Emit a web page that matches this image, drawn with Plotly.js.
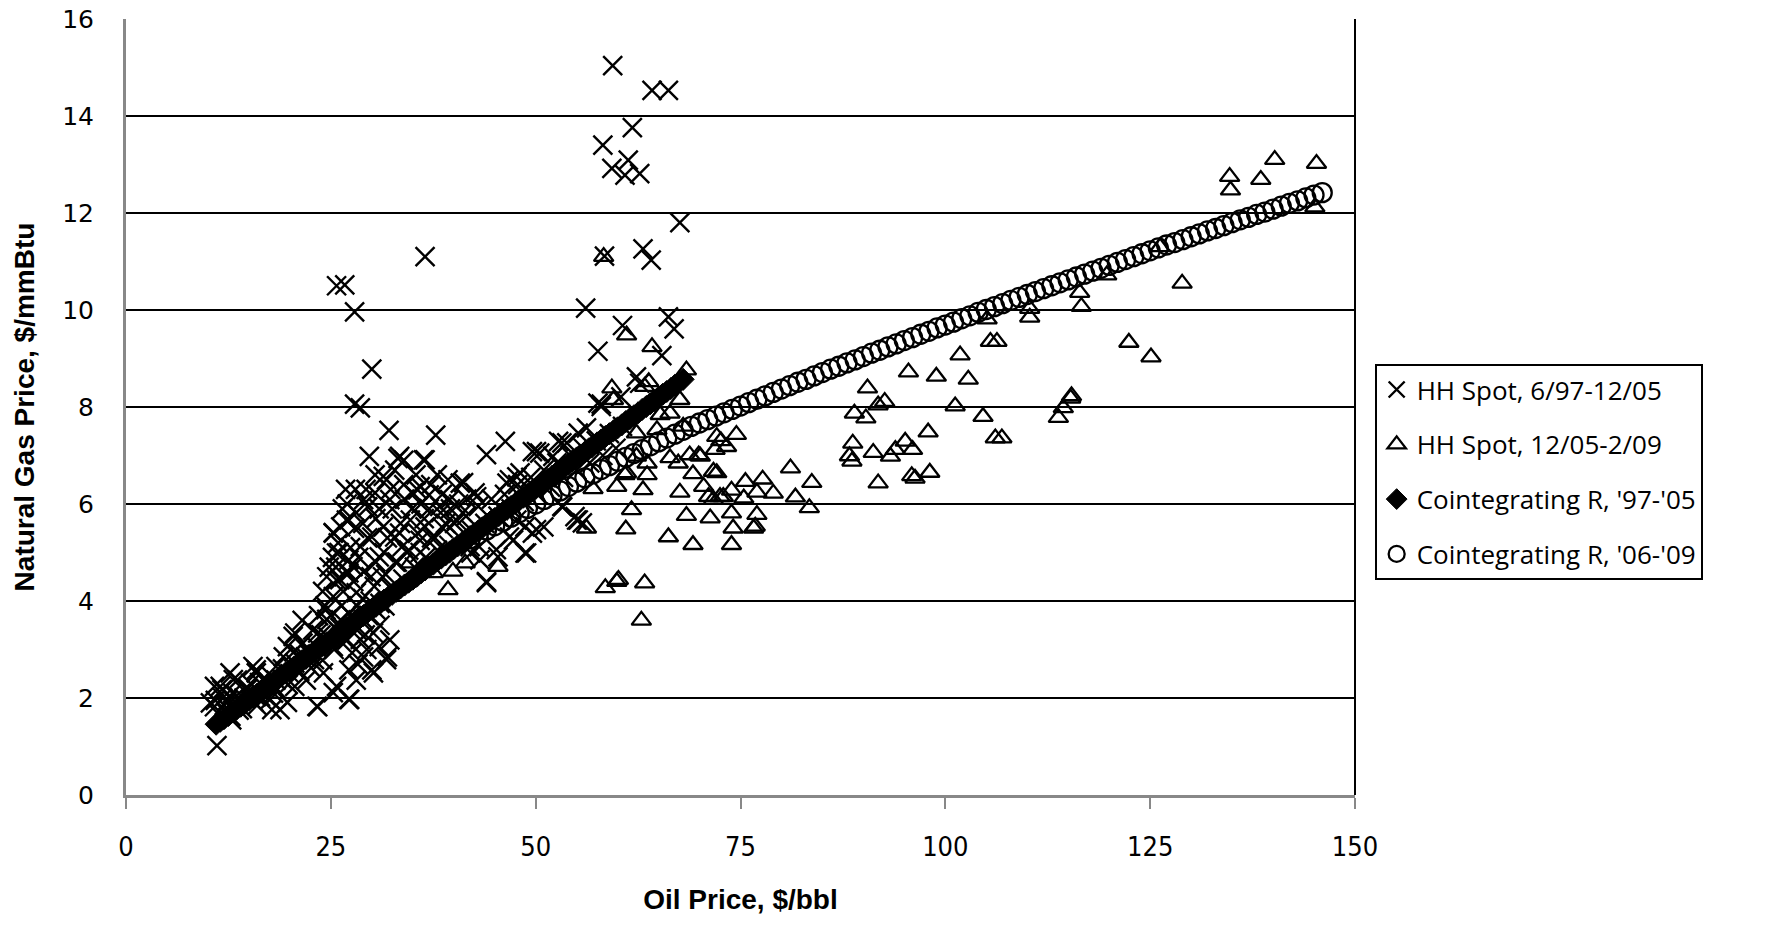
<!DOCTYPE html>
<html>
<head>
<meta charset="utf-8">
<script src="https://cdn.plot.ly/plotly-3.0.1.min.js"></script>
<style>
  html, body { margin: 0; padding: 0; background: #fff; }
  #chart { width: 1771px; height: 925px; }
</style>
</head>
<body>
<div id="chart"></div>
<script>
// ---------------- DATA ----------------
const seriesNames = ["HH Spot, 6/97-12/05", "HH Spot, 12/05-2/09", "Cointegrating R, '97-'05", "Cointegrating R, '06-'09"];
const xTickVals = [0, 25, 50, 75, 100, 125, 150];
const yTickVals = [0, 2, 4, 6, 8, 10, 12, 14, 16];
const xAxisTitle = "Oil Price, $/bbl";
const yAxisTitle = "Natural Gas Price, $/mmBtu";

// HH Spot, 6/97-12/05 (oil $/bbl, gas $/mmBtu)
const hh9705_oil = [
  59.4, 64.2, 66.2, 61.8, 58.2, 61.3, 59.3, 60.9, 62.7, 67.6, 58.4, 63.1, 64.1, 56.1, 60.6, 66.2, 66.9, 57.6, 65.4, 62.3, 58.0,
  25.7, 26.7, 27.9, 36.5, 30.0, 27.9, 28.6, 32.1, 37.8, 29.7, 33.2, 33.9, 36.5, 44.0, 46.3, 31.4, 32.8, 35.6, 37.0, 39.3, 41.2, 42.6, 29.0, 30.4, 49.6, 52.8, 55.2, 58.0, 62.7, 46.8, 47.7,
  25.3, 26.2, 27.2, 28.1, 29.5, 31.4, 32.8, 34.7, 36.5, 38.4, 40.3, 25.7, 27.2, 28.6, 30.0, 30.9, 33.7, 35.6, 25.3, 25.7, 27.2, 28.1, 27.2, 29.0, 26.2, 24.4,
  20.6, 21.6, 19.7, 19.2, 18.3, 20.6, 23.0, 23.4, 25.3, 27.6, 29.0, 30.9, 31.9, 30.0, 27.2, 28.1, 27.2, 23.4, 25.3, 22.0, 17.8, 19.7, 15.9, 15.9, 14.0, 13.6, 11.7, 10.8, 12.2, 11.1, 10.8, 12.7, 15.5, 18.3, 20.6,
  42.1, 43.1, 45.4, 48.7, 49.6, 48.7, 46.8, 44.0, 53.3, 55.2, 51.0, 47.7, 50.5, 53.8, 60.4, 54.8, 55.7,
  57.6, 56.2, 53.2, 50.1, 48.1, 52.1, 53.2, 55.0, 50.1, 48.9, 47.3, 45.2, 44.0, 43.2, 42.0, 40.8, 39.5, 35.9, 33.4, 36.3, 42.8, 46.5, 32.2, 31.8, 35.0, 38.3, 41.1,
  20.4, 15.9, 11.5, 13.1, 23.3, 27.3, 31.8, 30.2, 29.4, 25.7, 24.1, 18.8, 17.6, 25.3, 26.9, 26.1, 24.5, 27.7, 28.6, 30.2, 22.1, 10.3, 14.7, 16.4,
  12.0, 12.8, 13.5, 14.2, 14.9, 15.6, 16.3, 17.0, 17.7, 18.4, 19.1, 19.8, 20.5, 21.2, 21.9, 22.6, 23.3, 24.0, 24.7, 25.4, 26.1, 26.8, 27.5, 28.2, 28.9, 29.6,
  30.3, 31.0, 31.7, 32.4, 33.1, 33.8, 34.5, 35.2, 35.9, 36.6, 37.3, 38.0, 38.7, 39.4, 40.1, 40.8, 41.5, 42.2, 43.0, 43.8, 44.6, 45.4, 46.2, 47.0, 47.8, 48.6,
  49.4, 50.2, 51.0, 51.8, 52.6, 53.4, 54.2, 55.0, 55.8, 56.6, 57.4, 58.2, 59.0, 59.8, 60.6,
  24.8, 26.0, 27.0, 28.0, 29.5, 30.5, 31.5, 32.5, 33.5, 34.0, 36.0, 37.0, 38.0, 39.0, 26.5, 27.8, 29.0, 30.5, 29.8, 24.0, 23.5, 22.8, 21.5, 25.8, 27.0, 28.3, 31.0, 32.2,
  24.5, 25.2, 25.9, 26.4, 26.8, 27.4, 27.9, 28.4, 28.9, 29.3, 29.9, 30.4, 30.9, 31.3, 31.9, 32.3, 32.9, 33.4, 33.9, 34.3, 34.9, 35.4, 35.9, 36.4, 37.2, 37.7, 38.6, 39.6,
  40.6, 41.6, 23.8, 24.3, 25.0, 25.6, 26.3, 26.9, 28.2, 29.2, 30.6, 31.6, 22.4, 21.2, 20.0, 19.0, 18.0, 17.2, 16.0, 15.2, 14.4, 13.8, 13.0, 12.4, 11.4, 11.8, 12.9, 10.9
];
const hh9705_gas = [
  15.04, 14.53, 14.53, 13.76, 13.40, 13.09, 12.92, 12.78, 12.81, 11.80, 11.11, 11.26, 11.03, 10.04, 9.68, 9.86, 9.61, 9.15, 9.06, 8.62, 8.06,
  10.50, 10.52, 9.96, 11.10, 8.78, 8.06, 7.98, 7.52, 7.42, 6.98, 6.94, 6.90, 6.91, 7.02, 7.29, 6.57, 6.70, 6.29, 6.19, 6.50, 6.44, 6.23, 6.09, 6.23, 7.08, 7.29, 7.46, 8.01, 8.49, 6.50, 6.56,
  5.41, 5.53, 5.67, 5.82, 5.94, 5.53, 5.32, 5.67, 5.53, 5.82, 5.67, 4.99, 4.85, 5.12, 5.32, 4.91, 5.12, 5.40, 4.09, 4.43, 4.58, 4.17, 3.75, 3.61, 3.61, 3.82,
  3.34, 3.13, 3.06, 2.85, 2.65, 2.72, 2.79, 3.34, 3.06, 2.93, 2.85, 3.06, 2.85, 2.58, 2.58, 2.37, 1.97, 1.82, 2.11, 2.37, 1.76, 1.91, 2.03, 2.52, 1.97, 2.37, 2.17, 1.82, 1.70, 1.02, 2.24, 2.52, 2.65, 2.37, 2.24,
  4.99, 5.12, 4.91, 4.99, 5.40, 5.53, 5.32, 4.38, 5.94, 5.67, 5.53, 5.67, 7.05, 7.26, 8.21, 5.74, 5.61,
  8.08, 7.57, 7.26, 7.08, 6.64, 6.98, 5.95, 5.67, 5.47, 4.99, 5.26, 5.06, 4.40, 4.85, 5.12, 6.43, 6.09, 6.36, 6.98, 6.91, 6.15, 6.43, 6.09, 6.50, 6.23, 5.95, 5.82,
  3.27, 2.58, 2.24, 2.38, 1.83, 1.97, 2.79, 2.52, 3.00, 2.24, 2.52, 1.76, 1.97, 5.40, 5.67, 4.44, 3.62, 4.71, 3.21, 3.34, 3.00, 1.90, 2.17, 2.03,
  1.85, 1.62, 2.05, 1.78, 2.20, 1.92, 2.32, 2.05, 2.45, 2.18, 2.60, 2.28, 2.95, 2.55, 2.85, 2.62, 3.05, 2.78, 3.25, 3.00, 3.45, 3.20, 3.70, 3.40, 4.05, 3.70,
  4.30, 3.95, 4.55, 4.25, 4.80, 4.45, 5.05, 4.70, 5.25, 4.90, 5.30, 5.05, 5.50, 5.15, 5.60, 5.30, 5.75, 5.45, 5.95, 5.60, 6.10, 5.75, 6.20, 5.90, 6.40, 6.05,
  6.55, 6.20, 6.70, 6.35, 6.85, 6.55, 7.00, 6.70, 7.15, 6.85, 7.30, 7.00, 7.45, 7.15, 7.60,
  4.70, 5.00, 6.00, 6.30, 5.30, 5.70, 5.00, 5.90, 5.60, 6.10, 6.00, 5.90, 6.60, 5.60, 4.20, 4.40, 4.60, 4.80, 4.00, 4.20, 3.70, 3.40, 3.60, 3.40, 3.20, 2.70, 3.50, 3.20,
  4.50, 4.90, 5.20, 5.90, 6.30, 5.10, 5.50, 4.90, 5.60, 6.30, 4.50, 6.60, 5.90, 4.50, 5.30, 6.30, 4.80, 5.40, 6.40, 5.00, 5.90, 6.60, 5.00, 5.70, 6.40, 5.30, 6.20, 5.90,
  6.00, 6.10, 3.30, 3.90, 3.70, 4.70, 3.90, 4.60, 3.90, 3.30, 3.80, 3.90, 2.90, 2.90, 2.50, 2.40, 2.10, 2.30, 1.85, 2.30, 2.00, 1.75, 2.10, 1.95, 1.65, 2.00, 1.55, 1.95
];

// HH Spot, 12/05-2/09
const hh0509_oil = [
  134.7, 134.8, 140.2, 138.5, 145.3, 145.1, 128.9, 126.2, 119.7, 116.4, 116.6, 110.3, 110.3, 105.1, 105.5, 106.3, 101.8, 95.5, 98.9, 102.8,
  122.4, 125.1, 101.2, 104.6, 115.4, 115.3, 114.4, 113.8, 97.9, 95.1, 96.0, 106.1, 106.9, 98.1, 95.9, 96.3, 90.5, 91.8, 92.6, 88.9,
  90.3, 93.9, 88.7, 91.2, 93.3, 88.3, 88.6, 91.8, 61.1, 64.2, 59.3, 63.8, 63.3, 68.4, 67.6, 65.2, 68.0, 72.1, 74.5, 73.3,
  71.9, 68.8, 69.9, 66.4, 67.4, 63.6, 62.3, 60.9, 59.9, 57.0, 63.6, 63.1, 69.2, 71.7, 72.1, 67.6, 70.5, 73.9, 75.6, 77.7,
  79.0, 77.0, 75.4, 81.1, 83.7, 81.7, 83.4, 71.7, 71.1, 72.5, 61.7, 56.2, 61.0, 68.4, 71.3, 73.9, 74.1, 73.9, 76.6, 77.0,
  66.2, 69.2, 58.5, 59.9, 60.1, 63.3, 62.9, 58.3, 59.5, 62.3, 64.8, 66.4, 70.1, 72.9, 76.8, 61.1, 39.9, 39.3, 41.4, 45.4,
  37.5, 34.7, 72.6
];
const hh0509_gas = [
  12.75, 12.47, 13.10, 12.69, 13.02, 12.12, 10.55, 11.30, 10.72, 10.36, 10.07, 10.03, 9.85, 9.81, 9.35, 9.35, 9.07, 8.72, 8.63, 8.57,
  9.33, 9.03, 8.02, 7.80, 8.23, 8.18, 7.98, 7.78, 7.48, 7.29, 7.12, 7.36, 7.36, 6.65, 6.58, 6.53, 8.39, 8.04, 8.11, 7.87,
  7.77, 7.12, 7.25, 7.06, 6.98, 6.99, 6.88, 6.43, 9.48, 9.24, 8.39, 8.52, 8.42, 8.76, 8.15, 7.84, 7.60, 7.39, 7.43, 7.18,
  7.12, 7.01, 7.01, 6.95, 6.84, 6.84, 6.98, 6.60, 6.36, 6.31, 6.60, 6.29, 6.62, 6.67, 6.64, 6.24, 6.36, 6.28, 6.46, 6.51,
  6.22, 6.24, 6.12, 6.74, 6.44, 6.14, 5.92, 6.09, 6.15, 6.15, 5.88, 5.50, 5.48, 5.76, 5.71, 5.81, 5.50, 5.16, 5.50, 5.78,
  5.32, 5.16, 4.27, 4.40, 4.44, 4.37, 3.60, 11.10, 8.15, 7.46, 7.53, 7.87, 6.98, 6.15, 5.54, 6.64, 4.61, 4.23, 4.78, 4.71,
  4.58, 4.78, 7.30
];

// Cointegrating relation, '97-'05
const coint9705_oil = [
  11.0, 11.5, 12.0, 12.5, 13.0, 13.5, 14.0, 14.5, 15.0, 15.5, 16.0, 16.5, 17.0, 17.5, 18.0, 18.5, 19.0, 19.5, 20.0, 20.5,
  21.0, 21.5, 22.0, 22.5, 23.0, 23.5, 24.0, 24.5, 25.0, 25.5, 26.0, 26.5, 27.0, 27.5, 28.0, 28.5, 29.0, 29.5, 30.0, 30.5,
  31.0, 31.5, 32.0, 32.5, 33.0, 33.5, 34.0, 34.5, 35.0, 35.5, 36.0, 36.5, 37.0, 37.5, 38.0, 38.5, 39.0, 39.5, 40.0, 40.5,
  41.0, 41.5, 42.0, 42.5, 43.0, 43.5, 44.0, 44.5, 45.0, 45.5, 46.0, 46.5, 47.0, 47.5, 48.0, 48.5, 49.0, 49.5, 50.0, 50.5,
  51.0, 51.5, 52.0, 52.5, 53.0, 53.5, 54.0, 54.5, 55.0, 55.5, 56.0, 56.5, 57.0, 57.5, 58.0, 58.5, 59.0, 59.5, 60.0, 60.5,
  61.0, 61.5, 62.0, 62.5, 63.0, 63.5, 64.0, 64.5, 65.0, 65.5, 66.0, 66.5, 67.0, 67.5, 68.0
];
const coint9705_gas = [
  1.46, 1.52, 1.58, 1.64, 1.71, 1.77, 1.83, 1.89, 1.96, 2.02, 2.08, 2.14, 2.21, 2.27, 2.33, 2.39, 2.46, 2.52, 2.58, 2.64,
  2.70, 2.77, 2.83, 2.89, 2.95, 3.02, 3.08, 3.14, 3.20, 3.27, 3.33, 3.39, 3.45, 3.52, 3.58, 3.64, 3.70, 3.77, 3.83, 3.89,
  3.95, 4.02, 4.08, 4.14, 4.20, 4.27, 4.33, 4.39, 4.45, 4.51, 4.58, 4.64, 4.70, 4.76, 4.83, 4.89, 4.95, 5.01, 5.08, 5.14,
  5.20, 5.26, 5.33, 5.39, 5.45, 5.51, 5.58, 5.64, 5.70, 5.76, 5.83, 5.89, 5.95, 6.01, 6.08, 6.14, 6.20, 6.26, 6.32, 6.39,
  6.45, 6.51, 6.57, 6.64, 6.70, 6.76, 6.82, 6.89, 6.95, 7.01, 7.07, 7.14, 7.20, 7.26, 7.32, 7.39, 7.45, 7.51, 7.57, 7.63,
  7.70, 7.76, 7.82, 7.88, 7.95, 8.01, 8.07, 8.13, 8.20, 8.26, 8.32, 8.38, 8.45, 8.51, 8.57
];

// Cointegrating relation, '06-'09
const coint0609_oil = [
  42, 43, 44, 45, 46, 47, 48, 49, 50, 51, 52, 53, 54, 55, 56, 57, 58, 59, 60, 61,
  62, 63, 64, 65, 66, 67, 68, 69, 70, 71, 72, 73, 74, 75, 76, 77, 78, 79, 80, 81,
  82, 83, 84, 85, 86, 87, 88, 89, 90, 91, 92, 93, 94, 95, 96, 97, 98, 99, 100, 101,
  102, 103, 104, 105, 106, 107, 108, 109, 110, 111, 112, 113, 114, 115, 116, 117, 118, 119, 120, 121,
  122, 123, 124, 125, 126, 127, 128, 129, 130, 131, 132, 133, 134, 135, 136, 137, 138, 139, 140, 141,
  142, 143, 144, 145, 146
];
const coint0609_gas = [
  5.28, 5.37, 5.46, 5.55, 5.64, 5.73, 5.82, 5.91, 6.00, 6.09, 6.18, 6.27, 6.36, 6.45, 6.54, 6.62, 6.71, 6.79, 6.88, 6.96,
  7.04, 7.12, 7.20, 7.28, 7.36, 7.44, 7.52, 7.60, 7.67, 7.74, 7.81, 7.88, 7.95, 8.02, 8.09, 8.16, 8.23, 8.30, 8.37, 8.44,
  8.51, 8.57, 8.64, 8.71, 8.78, 8.84, 8.91, 8.97, 9.04, 9.11, 9.17, 9.24, 9.30, 9.37, 9.43, 9.50, 9.56, 9.63, 9.69, 9.75,
  9.82, 9.88, 9.95, 10.01, 10.07, 10.13, 10.20, 10.26, 10.32, 10.38, 10.44, 10.50, 10.56, 10.62, 10.68, 10.74, 10.80, 10.86, 10.92, 10.98,
  11.04, 11.10, 11.16, 11.22, 11.28, 11.34, 11.39, 11.45, 11.51, 11.57, 11.63, 11.68, 11.74, 11.80, 11.86, 11.91, 11.97, 12.02, 12.08, 12.14,
  12.20, 12.25, 12.31, 12.37, 12.42
];

// ---------------- CHART ----------------
const xTickFont = { family: "Liberation Sans Narrow, DejaVu Sans Condensed, Arial Narrow, sans-serif", size: 27, color: "#000" };
const yTickFont = { family: "DejaVu Sans, Verdana, sans-serif", size: 25, color: "#000" };
const titleFont = { family: "Liberation Sans, Arial, sans-serif", size: 28, color: "#000", weight: "bold" };

const traces = [
  {
    x: hh9705_oil, y: hh9705_gas, name: seriesNames[0], type: "scatter", mode: "markers",
    legendgroup: "a",
    marker: { symbol: "x-thin-open", size: 19, color: "#000", line: { color: "#000", width: 2.4 } }
  },
  {
    x: hh0509_oil, y: hh0509_gas, name: seriesNames[1], type: "scatter", mode: "markers",
    legendgroup: "b",
    marker: { symbol: "triangle-up-open", size: 17, color: "#000", line: { color: "#000", width: 2.3 } }
  },
  {
    x: coint9705_oil, y: coint9705_gas, name: seriesNames[2], type: "scatter", mode: "markers",
    legendgroup: "c",
    marker: { symbol: "diamond", size: 17, color: "#000", line: { color: "#000", width: 1 } }
  },
  {
    x: coint0609_oil, y: coint0609_gas, name: seriesNames[3], type: "scatter", mode: "markers",
    legendgroup: "d",
    marker: { symbol: "circle-open", size: 19, color: "#000", line: { color: "#000", width: 2.3 } }
  }
];

const layout = {
  width: 1771, height: 925,
  paper_bgcolor: "#fff", plot_bgcolor: "#fff",
  margin: { l: 126, r: 416, t: 19, b: 130, pad: 0 },
  showlegend: true,
  legend: {
    x: 1.016, y: 0.5553, xanchor: "left", yanchor: "top",
    bordercolor: "#000", borderwidth: 2, bgcolor: "#fff",
    font: { family: "Open Sans, sans-serif", size: 26, color: "#000" },
    tracegroupgap: 18, itemwidth: 30
  },
  xaxis: {
    range: [0, 150], tickvals: xTickVals, ticktext: xTickVals.map(String),
    ticks: "outside", ticklen: 11, tickwidth: 2, tickcolor: "#888",
    showline: true, linecolor: "#888", linewidth: 3,
    showgrid: false, zeroline: false,
    tickfont: xTickFont, ticklabelstandoff: 15,
    title: { text: xAxisTitle, font: titleFont, standoff: 28 },
    fixedrange: true
  },
  yaxis: {
    range: [0, 16], tickvals: yTickVals, ticktext: yTickVals.map(String),
    ticks: "", showline: true, linecolor: "#888", linewidth: 3,
    showgrid: true, gridcolor: "#000", gridwidth: 2.4, zeroline: false,
    tickfont: yTickFont, ticklabelstandoff: 24,
    title: { text: yAxisTitle, font: titleFont, standoff: 20 },
    fixedrange: true
  },
  shapes: [
    { type: "line", xref: "paper", yref: "paper", x0: 1, x1: 1, y0: 0, y1: 1, line: { color: "#000", width: 2 } }
  ]
};

Plotly.newPlot("chart", traces, layout, { displayModeBar: false, staticPlot: true });
</script>
</body>
</html>
